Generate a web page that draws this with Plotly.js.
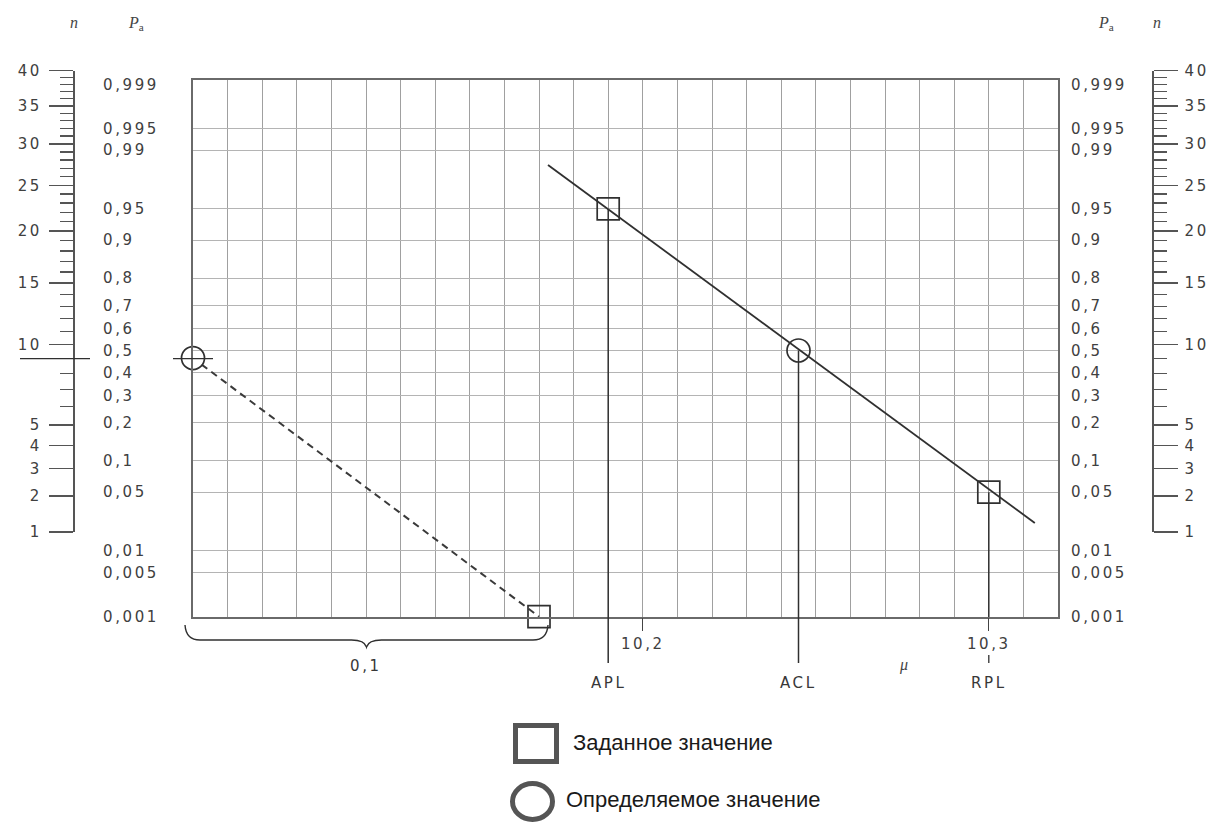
<!DOCTYPE html>
<html>
<head>
<meta charset="utf-8">
<script src="https://cdn.plot.ly/plotly-3.0.1.min.js"></script>
<style>html,body{margin:0;padding:0;background:#fff;}#chart{width:1220px;height:823px;}</style>
</head>
<body>
<div id="chart"></div>
<script>
// ---------- data ----------
const paGrid = [0.995, 0.99, 0.95, 0.9, 0.8, 0.7, 0.6, 0.5, 0.4, 0.3, 0.2, 0.1, 0.05, 0.01, 0.005];
const paLabels = [0.999, 0.995, 0.99, 0.95, 0.9, 0.8, 0.7, 0.6, 0.5, 0.4, 0.3, 0.2, 0.1, 0.05, 0.01, 0.005, 0.001];
const paLabelText = ['0,999','0,995','0,99','0,95','0,9','0,8','0,7','0,6','0,5','0,4','0,3','0,2','0,1','0,05','0,01','0,005','0,001'];
const nMajor = [1, 2, 3, 4, 5, 10, 15, 20, 25, 30, 35, 40];
const nMinor = [6, 7, 8, 9, 11, 12, 13, 14, 16, 17, 18, 19, 21, 22, 23, 24, 26, 27, 28, 29, 31, 32, 33, 34, 36, 37, 38, 39];
const muRange = [10.07, 10.32];
const muTicks = [10.2, 10.3];
const muTickText = ['10,2', '10,3'];
const limitNames = ['APL', 'ACL', 'RPL'];
const limitMu = [10.19, 10.245, 10.30];
const limitPa = [0.95, 0.5, 0.05];
const fitLineMu = [10.1726, 10.3133];
const fitLinePa = [0.9844, 0.0226];
const dashMu = [10.0725, 10.17];
const dashPa = [0.435, 0.001];
const givenMu = [10.19, 10.30, 10.17];
const givenPa = [0.95, 0.05, 0.001];
const foundMu = [10.245, 10.07];
const foundPa = [0.5, 0.465];
const nResult = 9;
const braceStart = 10.07, braceSpan = 0.1;
const braceLabel = '0,1';
const legendText = ['Заданное значение', 'Определяемое значение'];

// ---------- probability (normal-quantile) scale ----------
function probit(p){
  const a=[-3.969683028665376e+01,2.209460984245205e+02,-2.759285104469687e+02,1.383577518672690e+02,-3.066479806614716e+01,2.506628277459239e+00];
  const b=[-5.447609879822406e+01,1.615858368580409e+02,-1.556989798598866e+02,6.680131188771972e+01,-1.328068155288572e+01];
  const c=[-7.784894002430293e-03,-3.223964580411365e-01,-2.400758277161838e+00,-2.549732539343734e+00,4.374664141464968e+00,2.938163982698783e+00];
  const d=[7.784695709041462e-03,3.224671290700398e-01,2.445134137142996e+00,3.754408661907416e+00];
  const pl=0.02425, ph=1-pl; let q,r;
  if(p<pl){q=Math.sqrt(-2*Math.log(p));return (((((c[0]*q+c[1])*q+c[2])*q+c[3])*q+c[4])*q+c[5])/((((d[0]*q+d[1])*q+d[2])*q+d[3])*q+1);}
  if(p<=ph){q=p-0.5;r=q*q;return (((((a[0]*r+a[1])*r+a[2])*r+a[3])*r+a[4])*r+a[5])*q/(((((b[0]*r+b[1])*r+b[2])*r+b[3])*r+b[4])*r+1);}
  q=Math.sqrt(-2*Math.log(1-p));return -(((((c[0]*q+c[1])*q+c[2])*q+c[3])*q+c[4])*q+c[5])/((((d[0]*q+d[1])*q+d[2])*q+d[3])*q+1);
}
const P = arr => arr.map(probit);
const yRange = [-3.095, 3.142];
const nRange = [1, Math.sqrt(40)];

// ---------- layout helpers (pixel -> paper) ----------
const W = 1220, H = 823;
const fx = px => px / W;
const fy = py => 1 - py / H;
const wide = s => '<span style="letter-spacing:2.6px">' + s + '</span>';
const tickFont = {family: 'DejaVu Sans, Arial, sans-serif', size: 15, color: '#404040'};
const ink = '#303030';

const traces = [
  {x: fitLineMu, y: P(fitLinePa), mode: 'lines', line: {color: ink, width: 1.8}, hoverinfo: 'skip'},
  {x: dashMu, y: P(dashPa), mode: 'lines', line: {color: '#3a3a3a', width: 2, dash: '7px,5px'}, hoverinfo: 'skip'},
  {x: givenMu, y: P(givenPa), mode: 'markers', cliponaxis: false,
   marker: {symbol: 'square-open', size: 22, color: ink, line: {width: 1.7, color: ink}}, hoverinfo: 'skip'},
  {x: foundMu, y: P(foundPa), mode: 'markers', cliponaxis: false,
   marker: {symbol: 'circle-open', size: 23, color: ink, line: {width: 1.7, color: ink}}, hoverinfo: 'skip'},
  // carriers for the extra axes
  {x: [], y: [], xaxis: 'x2', yaxis: 'y', hoverinfo: 'skip'},
  {x: [], y: [], xaxis: 'x3', yaxis: 'y2', hoverinfo: 'skip'},
  {x: [], y: [], xaxis: 'x3', yaxis: 'y3', hoverinfo: 'skip'},
  {x: [], y: [], xaxis: 'x', yaxis: 'y4', hoverinfo: 'skip'},
  {x: [], y: [], xaxis: 'x', yaxis: 'y5', hoverinfo: 'skip'}
];

const nAxisCommon = {
  domain: [fy(532), fy(70.5)], range: nRange, anchor: 'free',
  tickmode: 'array', tickvals: nMajor.map(Math.sqrt), ticktext: nMajor.map(v => wide(String(v))),
  ticks: 'outside', ticklen: 24, tickwidth: 1.3, tickcolor: '#555',
  showline: true, linecolor: '#555', linewidth: 1.5, showgrid: false, zeroline: false,
  tickfont: tickFont, ticklabelstandoff: 4,
  minor: {tickmode: 'array', tickvals: nMinor.map(Math.sqrt), ticks: 'outside', ticklen: 13, tickwidth: 1.2, tickcolor: '#555', showgrid: false},
  fixedrange: true
};
const paLabelAxis = {
  overlaying: 'y', anchor: 'free', side: 'right', range: yRange,
  tickmode: 'array', tickvals: P(paLabels), ticktext: paLabelText.map(wide),
  ticks: '', showline: false, showgrid: false, zeroline: false, tickfont: tickFont, fixedrange: true
};

const shapes = [];
limitMu.forEach((m, i) => {
  shapes.push({type: 'line', xref: 'x', yref: 'y', x0: m, x1: m, y0: probit(limitPa[i]), y1: yRange[0], line: {color: ink, width: 1.5}});
});
// parts below the grid
shapes.push({type: 'line', xref: 'x', yref: 'paper', x0: limitMu[0], x1: limitMu[0], y0: fy(617), y1: fy(663), line: {color: ink, width: 1.5}});
shapes.push({type: 'line', xref: 'x', yref: 'paper', x0: limitMu[1], x1: limitMu[1], y0: fy(617), y1: fy(663), line: {color: ink, width: 1.5}});
shapes.push({type: 'line', xref: 'x', yref: 'paper', x0: limitMu[2], x1: limitMu[2], y0: fy(655), y1: fy(663), line: {color: ink, width: 1.3}});
// n read-out line and the line through the left circle
shapes.push({type: 'line', xref: 'paper', yref: 'y2', x0: fx(20), x1: fx(90), y0: Math.sqrt(nResult), y1: Math.sqrt(nResult), line: {color: ink, width: 1.3}});
shapes.push({type: 'line', xref: 'paper', yref: 'y2', x0: fx(173), x1: fx(213), y0: Math.sqrt(nResult), y1: Math.sqrt(nResult), line: {color: ink, width: 1.3}});
// curly brace under the 0,1 span
const pt = (x, y) => fx(x).toFixed(5) + ',' + fy(y).toFixed(5);
const braceL = 185, braceR = 548, braceM = (braceL + braceR) / 2, by0 = 625, by1 = 640, by2 = 647;
shapes.push({type: 'path', xref: 'paper', yref: 'paper', line: {color: ink, width: 1.4},
  path: 'M' + pt(braceL, by0) + ' Q' + pt(braceL + 1, by1) + ' ' + pt(braceL + 15, by1) +
        ' L' + pt(braceM - 15, by1) + ' Q' + pt(braceM - 2, by1) + ' ' + pt(braceM, by2) +
        ' Q' + pt(braceM + 2, by1) + ' ' + pt(braceM + 15, by1) +
        ' L' + pt(braceR - 15, by1) + ' Q' + pt(braceR - 1, by1) + ' ' + pt(braceR, by0)});
// legend symbols
shapes.push({type: 'rect', xref: 'paper', yref: 'paper', x0: fx(515.5), x1: fx(556.5), y0: fy(761.5), y1: fy(725.5), line: {color: '#555', width: 5}});
shapes.push({type: 'circle', xref: 'paper', yref: 'paper', x0: fx(512.5), x1: fx(552.5), y0: fy(819.5), y1: fy(783.5), line: {color: '#555', width: 5}});

const labFont = {family: 'DejaVu Sans, Arial, sans-serif', size: 15, color: '#383838'};
const serifIt = {family: 'Liberation Serif, serif', size: 16, color: '#444'};
const annotations = [];
const ann = o => annotations.push(Object.assign({showarrow: false, xanchor: 'center', yanchor: 'middle'}, o));
limitNames.forEach((t, i) => ann({x: limitMu[i], xref: 'x', y: fy(683), yref: 'paper', text: wide(t), font: labFont}));
ann({x: braceStart + braceSpan / 2, xref: 'x', y: fy(666), yref: 'paper', text: wide(braceLabel), font: labFont});
ann({x: fx(903), xref: 'paper', y: fy(665), yref: 'paper', text: '<i>μ</i>', font: serifIt});
ann({x: fx(74), y: fy(22), xref: 'paper', yref: 'paper', text: '<i>n</i>', font: serifIt});
ann({x: fx(136), y: fy(23), xref: 'paper', yref: 'paper', text: '<i>P</i><sub>a</sub>', font: serifIt});
ann({x: fx(1106), y: fy(23), xref: 'paper', yref: 'paper', text: '<i>P</i><sub>a</sub>', font: serifIt});
ann({x: fx(1157), y: fy(22), xref: 'paper', yref: 'paper', text: '<i>n</i>', font: serifIt});
ann({x: fx(571), y: fy(742), xref: 'paper', yref: 'paper', text: legendText[0], xanchor: 'left',
  font: {family: 'Liberation Sans, Arial, sans-serif', size: 22, color: '#1a1a1a'}});
ann({x: fx(564), y: fy(799), xref: 'paper', yref: 'paper', text: legendText[1], xanchor: 'left',
  font: {family: 'Liberation Sans, Arial, sans-serif', size: 22, color: '#1a1a1a'}});

const layout = {
  width: W, height: H, margin: {l: 0, r: 0, t: 0, b: 0},
  paper_bgcolor: '#fff', plot_bgcolor: '#fff', showlegend: false,
  xaxis: {domain: [fx(193), fx(1058)], range: muRange, tick0: muRange[0], dtick: 0.01,
    showticklabels: false, ticks: '', showgrid: true, gridcolor: '#a0a0a0', gridwidth: 1,
    zeroline: false, showline: true, mirror: true, linecolor: '#6a6a6a', linewidth: 1.6, anchor: 'y', fixedrange: true},
  xaxis2: {overlaying: 'x', anchor: 'y', side: 'bottom', range: muRange,
    tickmode: 'array', tickvals: muTicks, ticktext: muTickText.map(wide),
    ticks: 'outside', ticklen: 13, tickwidth: 1.3, tickcolor: '#444',
    showgrid: false, zeroline: false, showline: false, tickfont: tickFont, fixedrange: true},
  xaxis3: {domain: [0, 0.01], range: [0, 1], visible: false, anchor: 'y2', fixedrange: true},
  yaxis: {domain: [fy(617), fy(80)], range: yRange, tickmode: 'array', tickvals: P(paGrid),
    showticklabels: false, ticks: '', showgrid: true, gridcolor: '#b4b4b4', gridwidth: 1,
    zeroline: false, showline: true, mirror: true, linecolor: '#6a6a6a', linewidth: 1.6, anchor: 'x', fixedrange: true},
  yaxis2: Object.assign({}, nAxisCommon, {position: fx(73), side: 'left'}),
  yaxis3: Object.assign({}, nAxisCommon, {overlaying: 'y2', position: fx(1152), side: 'right'}),
  yaxis4: Object.assign({}, paLabelAxis, {position: fx(102)}),
  yaxis5: Object.assign({}, paLabelAxis, {position: fx(1070)}),
  shapes: shapes,
  annotations: annotations
};

Plotly.newPlot('chart', traces, layout, {staticPlot: true, displayModeBar: false});
</script>
</body>
</html>
